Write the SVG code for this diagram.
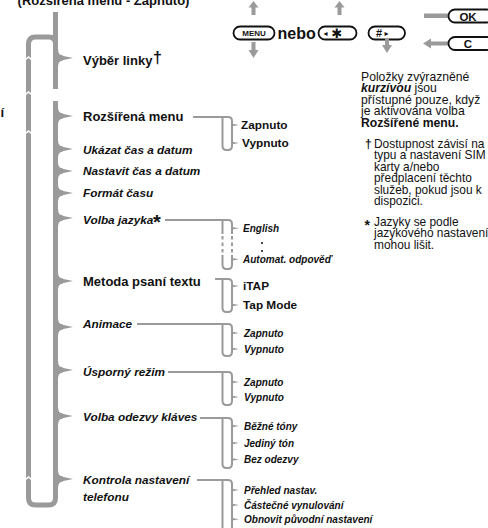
<svg xmlns="http://www.w3.org/2000/svg" width="488" height="528" viewBox="0 0 488 528">
<defs>
<style>
text{font-family:"Liberation Sans",Arial,Helvetica,sans-serif;fill:#111}
.b{font-weight:bold;font-size:13px}
.i{font-weight:bold;font-style:italic;font-size:11.8px}
.sb{font-weight:bold;font-size:11.8px}
.si{font-weight:bold;font-style:italic;font-size:10px}
.n{font-size:12.2px}
.f{font-size:11.9px}
.bar{fill:none;stroke:#9a9a9a;stroke-width:5}
.thin{fill:none;stroke:#9a9a9a;stroke-width:2}
.dash{fill:none;stroke:#9a9a9a;stroke-width:2;stroke-dasharray:3.5 3}
.g{fill:#9a9a9a}
.notch{fill:none;stroke:#fff;stroke-width:1.6}
.pill{fill:#fff;stroke:#111;stroke-width:1.8}
.k{font-weight:bold;text-anchor:middle}
</style>
</defs>
<rect width="488" height="528" fill="#fff"/>

<text class="b" x="103.5" y="5" text-anchor="middle">(Rozšířená menu - Zapnuto)</text>
<text class="b" x="4" y="117" text-anchor="end">í</text>

<g id="keys">
  <polygon class="g" points="248.5,7.5 253.5,1 258.5,7.5"/><rect class="g" x="251.5" y="7" width="4" height="8"/>
  <rect class="g" x="251.5" y="42" width="4" height="9"/><polygon class="g" points="248.5,50 253.5,58 258.5,50"/>
  <rect class="pill" x="233.5" y="26.5" width="41" height="13" rx="6.5"/>
  <text class="k" x="254" y="36" style="font-size:8px">MENU</text>
  <text x="277.5" y="39" font-weight="bold" font-size="16">nebo</text>
  <polygon class="g" points="334.5,7.5 339.5,1 344.5,7.5"/><rect class="g" x="337.5" y="7" width="4" height="8"/>
  <rect class="pill" x="318.5" y="26.5" width="38" height="13" rx="6.5"/>
  <text x="323.5" y="36" font-size="8" style="font-family:'DejaVu Sans',sans-serif">◂</text>
  <text x="331.5" y="38" font-size="13" font-weight="bold" style="font-family:'DejaVu Sans',sans-serif">✱</text>
  <rect class="pill" x="368.5" y="26.5" width="36.5" height="13" rx="6.5"/>
  <text x="376" y="37" font-size="11" font-weight="bold">#</text>
  <text x="384.5" y="36" font-size="8" style="font-family:'DejaVu Sans',sans-serif">▸</text>
  <rect class="g" x="385" y="38" width="4" height="8"/><polygon class="g" points="382,45 387,53 392,45"/>
  <rect class="g" x="424" y="13.5" width="25" height="4.5"/>
  <rect class="pill" x="448.5" y="9.5" width="45" height="13" rx="6.5"/>
  <text class="k" x="468" y="20.5" style="font-size:11.5px">OK</text>
  <polygon class="g" points="423,43.5 431,38.5 431,48.5"/><rect class="g" x="430" y="41.5" width="19" height="4"/>
  <rect class="pill" x="448.5" y="37" width="45" height="13" rx="6.5"/>
  <text class="k" x="468" y="48" style="font-size:11.5px">C</text>
</g>

<g id="notes">
  <text class="n" x="361" y="80.5">Položky zvýrazněné</text>
  <text class="n" x="361" y="92"><tspan font-weight="bold" font-style="italic">kurzívou</tspan> jsou</text>
  <text class="n" x="361" y="103.5">přístupné pouze, když</text>
  <text class="n" x="361" y="115">je aktivována volba</text>
  <text class="n" x="361" y="126.5" font-weight="bold">Rozšířené menu.</text>
  <text class="f" x="365" y="147.5" font-weight="bold">†</text>
  <text class="f" x="374" y="147.5">Dostupnost závisí na</text>
  <text class="f" x="374" y="159">typu a nastavení SIM</text>
  <text class="f" x="374" y="170.5">karty a/nebo</text>
  <text class="f" x="374" y="182">předplacení těchto</text>
  <text class="f" x="374" y="193.5">služeb, pokud jsou k</text>
  <text class="f" x="374" y="205">dispozici.</text>
  <text x="364.5" y="230" font-weight="bold" style="font-size:14px">*</text>
  <text class="f" x="374" y="225.5">Jazyky se podle</text>
  <text class="f" x="374" y="237">jazykového nastavení</text>
  <text class="f" x="374" y="248.5">mohou lišit.</text>
</g>

<g id="connectors">
  <path class="bar" d="M55.5,12 V89"/>
  <path class="bar" d="M55.5,101 V498 Q55.5,505 48.5,505 H35.5 Q28.5,505 28.5,498 V44 Q28.5,37 35.5,37 H48.5 Q55.5,37 55.5,44"/>
  <polyline class="notch" points="25.5,59.5 28.5,57 31.5,59.5"/>
  <polyline class="notch" points="25.5,94.5 28.5,92 31.5,94.5"/>
  <polyline class="notch" points="25.5,133.5 28.5,131 31.5,133.5"/>
  <polyline class="notch" points="25.5,479.5 28.5,477 31.5,479.5"/>
  <path class="bar" d="M55.5,49 Q55.5,58 63,58 Q55.5,58 55.5,67 M55.5,107 Q55.5,116 63,116 Q55.5,116 55.5,125 M55.5,140 Q55.5,149 63,149 Q55.5,149 55.5,158 M55.5,162 Q55.5,171 63,171 Q55.5,171 55.5,180 M55.5,184 Q55.5,193 63,193 Q55.5,193 55.5,202 M55.5,209 Q55.5,218 63,218 Q55.5,218 55.5,227 M55.5,272 Q55.5,281 63,281 Q55.5,281 55.5,290 M55.5,318 Q55.5,327 63,327 Q55.5,327 55.5,336 M55.5,361 Q55.5,370 63,370 Q55.5,370 55.5,379 M55.5,407 Q55.5,416 63,416 Q55.5,416 55.5,425 M55.5,470 Q55.5,479 63,479 Q55.5,479 55.5,488"/>
  <path class="g" d="M61,55.5 L73,58 L61,60.5Z M61,113.5 L73,116 L61,118.5Z M61,146.5 L73,149 L61,151.5Z M61,168.5 L73,171 L61,173.5Z M61,190.5 L73,193 L61,195.5Z M61,215.5 L73,218 L61,220.5Z M61,278.5 L73,281 L61,283.5Z M61,324.5 L73,327 L61,329.5Z M61,367.5 L73,370 L61,372.5Z M61,413.5 L73,416 L61,418.5Z M61,476.5 L73,479 L61,481.5Z"/>

  <path class="thin" d="M193,117 H228 Q232,117 232,121 V146 Q232,150 228,150 H226.5 Q222.5,150 222.5,146 V117"/>
  <path class="thin" d="M165,220 H228 Q232,220 232,224 V234 M222.5,220 V234 M232,255 V265 Q232,269 228,269 H226.5 Q222.5,269 222.5,265 V255"/>
  <path class="dash" d="M232,236 V255 M222.5,236 V255"/>
  <path class="thin" d="M215,279 H228 Q232,279 232,283 V308 Q232,312 228,312 H226.5 Q222.5,312 222.5,308 V279"/>
  <path class="thin" d="M137,324 H228 Q232,324 232,328 V352 Q232,356 228,356 H226.5 Q222.5,356 222.5,352 V324"/>
  <path class="thin" d="M168,372 H228 Q232,372 232,376 V401 Q232,405 228,405 H226.5 Q222.5,405 222.5,401 V372"/>
  <path class="thin" d="M200,418 H228 Q232,418 232,422 V464 Q232,468 228,468 H226.5 Q222.5,468 222.5,464 V418"/>
  <path class="thin" d="M197,480 H228 Q232,480 232,484 V530 M222.5,480 V530"/>
  <path class="g" d="M231,123.5 L239,125 L231,126.5Z M231,141.5 L239,143 L231,144.5Z M231,226.8 L239,228.3 L231,229.8Z M231,257.8 L239,259.3 L231,260.8Z M231,284.5 L239,286 L231,287.5Z M231,303.5 L239,305 L231,306.5Z M231,331.5 L239,333 L231,334.5Z M231,347.5 L239,349 L231,350.5Z M231,380.5 L239,382 L231,383.5Z M231,395.5 L239,397 L231,398.5Z M231,424.5 L239,426 L231,427.5Z M231,441.5 L239,443 L231,444.5Z M231,458 L239,459.5 L231,461Z M231,488.5 L239,490 L231,491.5Z M231,503.5 L239,505 L231,506.5Z M231,517.8 L239,519.3 L231,520.8Z"/>
</g>

<g id="item-vyber-linky"><text class="b" x="83" y="65">Výběr linky</text><text x="153" y="62.5" font-weight="bold" style="font-size:16px">†</text></g>
<g id="item-rozsirena-menu"><text class="b" x="83" y="121">Rozšířená menu</text></g>
<g id="item-rozsirena-zapnuto"><text class="sb" x="241" y="129.3">Zapnuto</text></g>
<g id="item-rozsirena-vypnuto"><text class="sb" x="242" y="147.3">Vypnuto</text></g>
<g id="item-ukazat"><text class="i" x="83" y="153.5">Ukázat čas a datum</text></g>
<g id="item-nastavit"><text class="i" x="83" y="175.3">Nastavit čas a datum</text></g>
<g id="item-format"><text class="i" x="83" y="197">Formát času</text></g>
<g id="item-volba-jazyka"><text class="i" x="83" y="223.5">Volba jazyka</text><text x="153" y="228.5" font-weight="bold" style="font-size:20px">*</text></g>
<g id="item-english"><text class="si" x="243" y="231.8">English</text></g>
<g id="item-dots"><circle cx="262" cy="243" r="1" fill="#111"/><circle cx="262" cy="251" r="1" fill="#111"/></g>
<g id="item-automat"><text class="si" x="243" y="262.8">Automat. odpověď</text></g>
<g id="item-metoda"><text class="b" x="83" y="285.5">Metoda psaní textu</text></g>
<g id="item-itap"><text class="sb" x="243" y="290.3">iTAP</text></g>
<g id="item-tapmode"><text class="sb" x="243" y="309.3">Tap Mode</text></g>
<g id="item-animace"><text class="i" x="83" y="327.5">Animace</text></g>
<g id="item-animace-zap"><text class="si" x="244" y="336.5">Zapnuto</text></g>
<g id="item-animace-vyp"><text class="si" x="244" y="352.5">Vypnuto</text></g>
<g id="item-usporny"><text class="i" x="83" y="376">Úsporný režim</text></g>
<g id="item-usporny-zap"><text class="si" x="244" y="385.5">Zapnuto</text></g>
<g id="item-usporny-vyp"><text class="si" x="244" y="400.5">Vypnuto</text></g>
<g id="item-odezva"><text class="i" x="83" y="421">Volba odezvy kláves</text></g>
<g id="item-bezne"><text class="si" x="244" y="429.5">Běžné tóny</text></g>
<g id="item-jediny"><text class="si" x="244" y="446.5">Jediný tón</text></g>
<g id="item-bez"><text class="si" x="244" y="463">Bez odezvy</text></g>
<g id="item-kontrola"><text class="i" x="83" y="484">Kontrola nastavení</text><text class="i" x="83" y="500.5">telefonu</text></g>
<g id="item-prehled"><text class="si" x="244" y="493.5">Přehled nastav.</text></g>
<g id="item-castecne"><text class="si" x="244" y="508.5">Částečné vynulování</text></g>
<g id="item-obnovit"><text class="si" x="244" y="522.8">Obnovit původní nastavení</text></g>
</svg>
